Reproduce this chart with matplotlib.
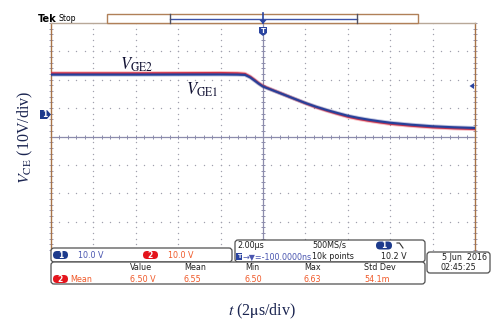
import matplotlib
matplotlib.use("Agg")
import matplotlib.pyplot as plt
from matplotlib.patches import FancyBboxPatch, Rectangle, Polygon
import numpy as np

# Gate voltages during turn-off (time in µs, voltage in V)
t_us = [-10, -6, -2, -1.2, -0.85, -0.6, -0.4, -0.2, 0, 0.5, 1, 1.5, 2, 2.5, 3,
        3.5, 4, 4.5, 5, 5.5, 6, 7, 8, 9, 10]
v_ge1 = [13.9, 13.9, 13.95, 13.9, 13.8, 12.9, 11.8, 10.7, 9.7, 8.25, 6.8, 5.35, 3.9,
         2.6, 1.45, 0.4, -0.6, -1.35, -2.0, -2.55, -3.05, -3.75, -4.3, -4.65, -4.9]
v_ge2 = [14.4, 14.4, 14.5, 14.4, 14.2, 13.2, 12.1, 10.9, 9.9, 8.35, 6.85, 5.3, 3.8,
         2.4, 1.2, 0.1, -0.95, -1.75, -2.4, -2.95, -3.45, -4.15, -4.7, -5.05, -5.3]

# Scope settings
volts_per_div = 10.0
us_per_div = 2.0
ground_offset_div = 0.79   # ch1 ground marker above screen centre
n_hdiv, n_vdiv = 10, 8

# Readout texts
scale_ch1 = "10.0 V"
scale_ch2 = "10.0 V"
timebase = "2.00\u00b5s"
sample_rate = "500MS/s"
trig_pos = "\u2192\u25bc=-100.0000ns"
record_len = "10k points"
trig_level = "10.2 V"
meas_headers = ["Value", "Mean", "Min", "Max", "Std Dev"]
meas_values = ["6.50 V", "6.55", "6.50", "6.63", "54.1m"]
date_str = "5 Jun  2016"
time_str = "02:45:25"

W, H = 502, 327
fig = plt.figure(figsize=(W / 100, H / 100), dpi=100)
plt.rcParams['mathtext.fontset'] = 'stix'

# screen area in pixels
L, R, T, B = 51, 475, 23, 250
ax = fig.add_axes([L / W, 1 - B / H, (R - L) / W, (B - T) / H])
yc = -ground_offset_div * volts_per_div
ax.set_xlim(-n_hdiv / 2 * us_per_div, n_hdiv / 2 * us_per_div)
ax.set_ylim(yc - n_vdiv / 2 * volts_per_div, yc + n_vdiv / 2 * volts_per_div)
ax.set_xticks([]); ax.set_yticks([])
frame_col = '#a87448'
for s in ['left', 'right', 'top']:
    ax.spines[s].set_color(frame_col)
    ax.spines[s].set_linewidth(1.0)
ax.spines['top'].set_color('#b8a898')
ax.spines['bottom'].set_visible(False)

grid_col = '#a0a0ae'
x0, x1 = ax.get_xlim(); y0, y1 = ax.get_ylim()
# dotted graticule
for k in range(1, n_hdiv):
    xv = x0 + k * us_per_div
    if abs(xv) < 1e-9:
        continue
    ys = np.arange(y0, y1 + 1e-6, volts_per_div / 5)
    ax.scatter(np.full_like(ys, xv), ys, s=1.0, color=grid_col, lw=0, zorder=1)
for k in range(1, n_vdiv):
    yv = y0 + k * volts_per_div
    if abs(yv - yc) < 1e-9:
        continue
    xs = np.arange(x0, x1 + 1e-6, us_per_div / 5)
    ax.scatter(xs, np.full_like(xs, yv), s=1.0, color=grid_col, lw=0, zorder=1)
# centre cross with minor ticks
cross_col = '#8c8cac'
ax.axvline(0, color=cross_col, lw=0.9, zorder=1)
ax.axhline(yc, color=cross_col, lw=0.9, zorder=1)
xs = np.arange(x0, x1 + 1e-6, us_per_div / 5)
ax.scatter(xs, np.full_like(xs, yc), marker='|', s=10, color=cross_col, lw=0.7, zorder=1)
ys = np.arange(y0, y1 + 1e-6, volts_per_div / 5)
ax.scatter(np.zeros_like(ys), ys, marker='_', s=10, color=cross_col, lw=0.7, zorder=1)
# edge ticks
ax.scatter(np.full_like(ys, x0), ys, marker='_', s=8, color=cross_col, lw=0.6, zorder=1, clip_on=False)
ax.scatter(np.full_like(ys, x1), ys, marker='_', s=8, color=cross_col, lw=0.6, zorder=1, clip_on=False)

# traces
red, blue = '#e8303c', '#26409a'
ax.plot(t_us, v_ge2, color=red, lw=2.8, alpha=0.3, zorder=3)
ax.plot(t_us, v_ge2, color=red, lw=1.4, zorder=3)
ax.plot(t_us, v_ge1, color=blue, lw=2.8, alpha=0.3, zorder=4)
ax.plot(t_us, v_ge1, color=blue, lw=1.5, zorder=4)

ax.text(-6.75, 15.8, r'$V_{\mathrm{GE2}}$', fontsize=12, color='#111133', zorder=6)
ax.text(-3.65, 6.8, r'$V_{\mathrm{GE1}}$', fontsize=12, color='#111133', zorder=6)

# overlay in pixel coordinates
ov = fig.add_axes([0, 0, 1, 1], zorder=10)
ov.set_xlim(0, W); ov.set_ylim(H, 0); ov.axis('off')

def rbox(x, y, w, h, ec='#505050', lw=0.9, fc='white', r=3):
    ov.add_patch(FancyBboxPatch((x, y), w, h, boxstyle=f"round,pad=0,rounding_size={r}",
                                ec=ec, fc=fc, lw=lw))

def pill(x, y, w, h, col, label):
    ov.add_patch(FancyBboxPatch((x, y), w, h, boxstyle=f"round,pad=0,rounding_size={h/2}",
                                ec='none', fc=col))
    ov.text(x + w / 2, y + h / 2 + 0.3, label, color='white', fontsize=5.5,
            fontweight='bold', ha='center', va='center')

sans = 'DejaVu Sans'
fs = 5.8
blue_txt = '#4a56b0'
red_txt = '#f05a2a'
pill_blue = '#1c3a8c'
pill_red = '#e4141c'

# header
ov.text(38, 18.5, 'Tek', fontsize=7, fontweight='bold', family=sans, va='center', ha='left')
ov.text(59, 18.5, 'Stop', fontsize=5.6, family=sans, va='center', ha='left')
ov.add_patch(Rectangle((107, 14), 311, 9, ec='#b08058', fc='white', lw=1.0))
ov.plot([170, 357], [18.5, 18.5], color='#3c52a8', lw=1.0)
ov.plot([170, 170], [14, 23], color='#505060', lw=1.0)
ov.plot([357, 357], [14, 23], color='#505060', lw=1.0)
ov.plot([263, 263], [13, 23], color='#2a44a0', lw=1.2)
ov.add_patch(Polygon([[259.5, 20], [266.5, 20], [263, 24]], closed=True, fc='#2a44a0', ec='none'))
# trigger position marker
ov.add_patch(Polygon([[259, 27], [267, 27], [267, 33], [263, 36], [259, 33]], closed=True,
                     fc='#2a44a0', ec='none'))
ov.text(263, 30.7, 'T', color='white', fontsize=5, fontweight='bold', ha='center', va='center')
# ch1 ground marker
ov.add_patch(Polygon([[40, 110], [47, 110], [51, 114.5], [47, 119], [40, 119]], closed=True,
                     fc=pill_blue, ec='none'))
ov.text(44.5, 114.8, '1', color='white', fontsize=5.5, fontweight='bold', ha='center', va='center')
# trigger level arrow
ov.add_patch(Polygon([[469.5, 86], [474, 83], [474, 89]], closed=True, fc='#2a44a0', ec='none'))

# readout boxes
rbox(51, 248, 181, 14)
pill(53, 251, 15, 8, pill_blue, '1')
ov.text(78, 255.5, scale_ch1, fontsize=fs, color=blue_txt, family=sans, va='center')
pill(143, 251, 15, 8, pill_red, '2')
ov.text(168, 255.5, scale_ch2, fontsize=fs, color=red_txt, family=sans, va='center')

rbox(235, 240, 190, 22)
ov.text(237, 245.5, timebase, fontsize=fs, color='#202020', family=sans, va='center')
ov.text(312, 245.5, sample_rate, fontsize=fs, color='#202020', family=sans, va='center')
pill(376, 241.5, 16, 8, pill_blue, '1')
ov.plot([397, 399.5, 403], [243, 243, 248], color='#303030', lw=0.8)
ov.add_patch(Rectangle((236.5, 252.5), 6, 7, fc='#2a44a0', ec='none'))
ov.text(239.5, 256.3, 'T', color='white', fontsize=4.5, fontweight='bold', ha='center', va='center')
ov.text(243, 256.5, trig_pos, fontsize=fs, color=blue_txt, family=sans, va='center')
ov.text(312, 256.5, record_len, fontsize=fs, color='#202020', family=sans, va='center')
ov.text(381, 256.5, trig_level, fontsize=fs, color='#202020', family=sans, va='center')

rbox(51, 262, 374, 22)
cols = [130, 184, 245, 304, 364]
for x, h_, v_ in zip(cols, meas_headers, meas_values):
    ov.text(x, 268, h_, fontsize=fs, color='#202020', family=sans, va='center')
    ov.text(x, 279, v_, fontsize=fs, color=red_txt, family=sans, va='center')
pill(53, 275, 15, 8, pill_red, '2')
ov.text(70, 279, 'Mean', fontsize=fs, color=red_txt, family=sans, va='center')

rbox(427, 252, 63, 21)
ov.text(487, 257.5, date_str, fontsize=fs, color='#202020', family=sans, va='center', ha='right')
ov.text(441, 268, time_str, fontsize=fs, color='#202020', family=sans, va='center', ha='left')

# axis captions
lab_col = '#1a2450'
ov.text(262, 311, r'$t$ (2$\mathrm{\mu}$s/div)', fontsize=11.5, color=lab_col,
        family='Liberation Serif', ha='center', va='center')
ov.text(25, 137, r'$V_{\mathrm{CE}}$ (10V/div)', fontsize=11.5, color=lab_col,
        family='Liberation Serif', ha='center', va='center', rotation=90)

fig.savefig('out.png', dpi=100)
